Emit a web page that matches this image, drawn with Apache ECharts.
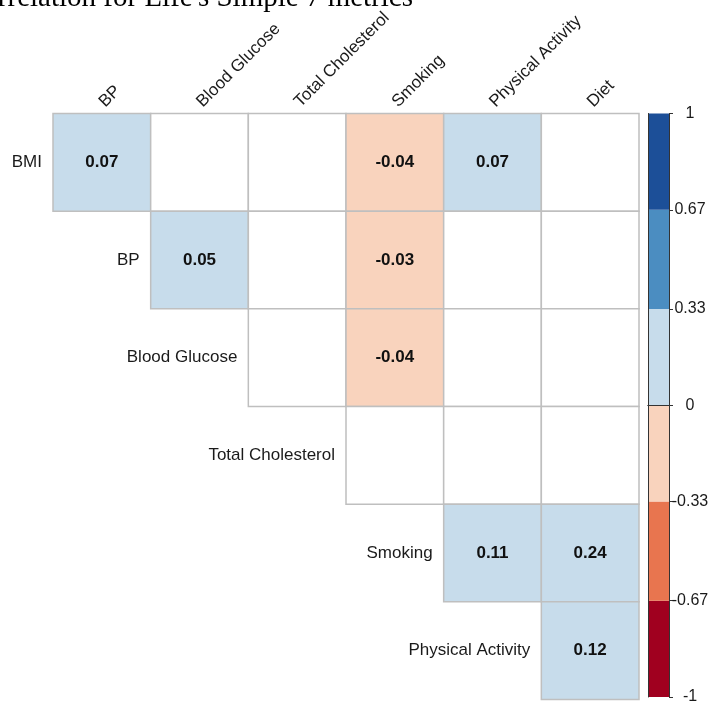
<!DOCTYPE html>
<html>
<head>
<meta charset="utf-8">
<script src="https://cdn.jsdelivr.net/npm/echarts@6/dist/echarts.min.js"></script>
<style>
  html, body { margin: 0; padding: 0; background: #fff; }
  #chart { width: 712px; height: 705px; }
</style>
</head>
<body>
<div id="chart"></div>
<script>
// Heading text (sits partly above the page edge)
const titleText = "Correlation for Life's Simple 7 metrics";

// Matrix axes
const colLabels = ['BP', 'Blood Glucose', 'Total Cholesterol', 'Smoking', 'Physical Activity', 'Diet'];
const rowLabels = ['BMI', 'BP', 'Blood Glucose', 'Total Cholesterol', 'Smoking', 'Physical Activity'];

// Upper-triangle correlations, one array per row (column order = colLabels).
// null = shown as an empty cell; entries left of the diagonal are not drawn.
const rowBMI            = [0.07, null, null, -0.04, 0.07, null];
const rowBP             = [null, 0.05, null, -0.03, null, null];
const rowBloodGlucose   = [null, null, null, -0.04, null, null];
const rowTotalChol      = [null, null, null, null, null, null];
const rowSmoking        = [null, null, null, null, 0.11, 0.24];
const rowPhysicalAct    = [null, null, null, null, null, 0.12];

// Colour legend
const legendBreaks     = [-1, -0.67, -0.33, 0, 0.33, 0.67, 1];
const legendTickLabels = ['-1', '-0.67', '-0.33', '0', '0.33', '0.67', '1'];
const legendColors     = ['#a0001f', '#e8754f', '#f9d3bd', '#c7dceb', '#4b8dc1', '#1c4f98'];

const matrix = [rowBMI, rowBP, rowBloodGlucose, rowTotalChol, rowSmoking, rowPhysicalAct];

function colorFor(v) {
  for (let i = 0; i < legendColors.length; i++) {
    if (v >= legendBreaks[i] && (v < legendBreaks[i + 1] || i === legendColors.length - 1)) {
      return legendColors[i];
    }
  }
  return '#ffffff';
}

// Build cell list (row r shows columns r..end)
const cellData = [];
const cellValues = [];
matrix.forEach((row, r) => {
  for (let c = r; c < colLabels.length; c++) {
    cellData.push([c, r]);
    cellValues.push(row[c]);
  }
});

const legendData = [];
for (let i = 0; i < legendColors.length; i++) {
  legendData.push([0, legendBreaks[i], legendBreaks[i + 1]]);
}

const FONT = '"Liberation Sans", Arial, Helvetica, sans-serif';

const chart = echarts.init(document.getElementById('chart'), null, { renderer: 'canvas' });

chart.setOption({
  backgroundColor: '#ffffff',
  animation: false,
  graphic: [{
    type: 'text',
    x: 413,
    y: -2,
    style: {
      text: titleText,
      align: 'right',
      verticalAlign: 'middle',
      font: '29px "Liberation Serif", "Times New Roman", serif',
      fill: '#000'
    }
  }],
  grid: [
    { left: 53, top: 113.5, width: 586, height: 586 },
    { left: 648, top: 113.5, width: 21, height: 586 }
  ],
  xAxis: [
    {
      gridIndex: 0, type: 'category', position: 'top', data: colLabels,
      axisLine: { show: false }, axisTick: { show: false }, splitLine: { show: false },
      axisLabel: { rotate: -45, margin: 9, interval: 0, fontSize: 17, fontFamily: FONT, color: '#1a1a1a' }
    },
    {
      gridIndex: 1, type: 'category', data: [''], position: 'bottom', z: 10,
      axisLine: { show: true, lineStyle: { color: '#333', width: 1 } },
      axisTick: { show: false }, axisLabel: { show: false }
    },
    {
      gridIndex: 1, type: 'category', data: [''], position: 'top', z: 10,
      axisLine: { show: true, lineStyle: { color: '#333', width: 1 } },
      axisTick: { show: false }, axisLabel: { show: false }
    }
  ],
  yAxis: [
    {
      gridIndex: 0, type: 'category', data: rowLabels, inverse: true, show: false
    },
    {
      gridIndex: 1, type: 'value', min: -1, max: 1, position: 'right', z: 10,
      splitLine: { show: false },
      axisLine: { show: true, lineStyle: { color: '#333', width: 1 } },
      axisTick: { show: true, length: 4, customValues: legendBreaks, lineStyle: { color: '#333' } },
      axisLabel: {
        customValues: legendBreaks, align: 'center', margin: 21,
        fontSize: 16, fontFamily: FONT, color: '#1a1a1a',
        formatter: (v) => {
          const k = legendBreaks.findIndex(b => Math.abs(b - v) < 1e-9);
          return k >= 0 ? legendTickLabels[k] : '';
        }
      }
    },
    {
      gridIndex: 1, type: 'value', min: -1, max: 1, position: 'left', z: 10,
      splitLine: { show: false },
      axisLine: { show: true, lineStyle: { color: '#333', width: 1 } },
      axisTick: { show: false }, axisLabel: { show: false }
    }
  ],
  series: [
    {
      type: 'custom',
      xAxisIndex: 0, yAxisIndex: 0,
      data: cellData,
      encode: { x: 0, y: 1 },
      renderItem: (params, api) => {
        const col = api.value(0), row = api.value(1);
        const p = api.coord([col, row]);
        const s = api.size([1, 1]);
        const v = cellValues[params.dataIndex];
        const children = [{
          type: 'rect',
          shape: { x: p[0] - s[0] / 2, y: p[1] - s[1] / 2, width: s[0], height: s[1] },
          style: { fill: v === null ? '#ffffff' : colorFor(v), stroke: '#bfbfbf', lineWidth: 1.5 }
        }];
        if (v !== null) {
          children.push({
            type: 'text',
            style: {
              text: v.toFixed(2), x: p[0], y: p[1], align: 'center', verticalAlign: 'middle',
              font: 'bold 17px ' + FONT, fill: '#111'
            }
          });
        }
        if (col === row) {
          children.push({
            type: 'text',
            style: {
              text: rowLabels[row], x: p[0] - s[0] / 2 - 11, y: p[1], align: 'right', verticalAlign: 'middle',
              font: '17px ' + FONT, fill: '#1a1a1a'
            }
          });
        }
        return { type: 'group', children };
      }
    },
    {
      type: 'custom',
      xAxisIndex: 1, yAxisIndex: 1,
      data: legendData,
      encode: { x: 0, y: [1, 2] },
      renderItem: (params, api) => {
        const top = api.coord([api.value(0), api.value(2)]);
        const bottom = api.coord([api.value(0), api.value(1)]);
        const w = api.size([1, 0])[0];
        return {
          type: 'rect',
          shape: { x: top[0] - w / 2, y: top[1], width: w, height: bottom[1] - top[1] },
          style: { fill: legendColors[params.dataIndex] }
        };
      }
    }
  ]
});
</script>
</body>
</html>
